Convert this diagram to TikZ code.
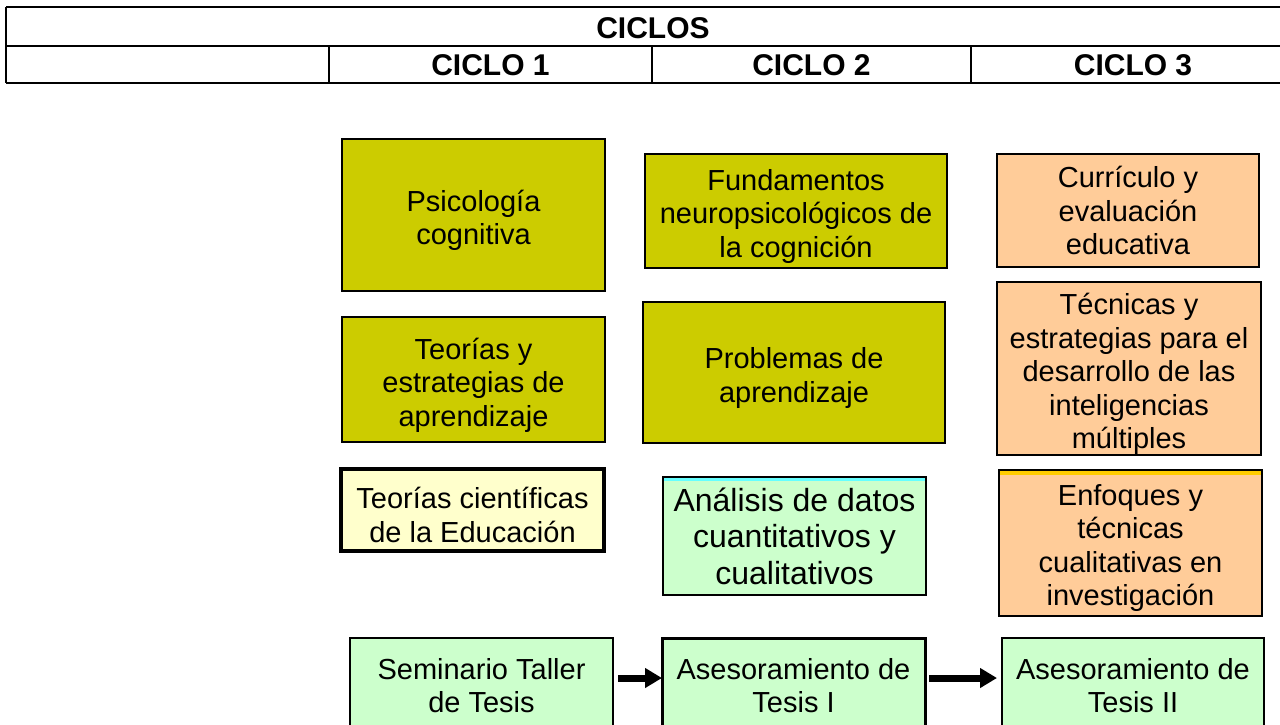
\documentclass[tikz,border=0pt]{standalone}
\usepackage{fontspec}
\setmainfont{Liberation Sans}
\usetikzlibrary{arrows.meta}
\definecolor{olive}{HTML}{CCCC00}
\definecolor{peach}{HTML}{FFCC99}
\definecolor{paleyellow}{HTML}{FFFFCC}
\definecolor{palegreen}{HTML}{CCFFCC}
\definecolor{bandcyan}{HTML}{66FFFF}
\definecolor{bandgold}{HTML}{FFCC00}
\newcommand\lowstrut{\rule{0pt}{32pt}}
\tikzset{
  base/.style={draw=black, line width=2pt, inner sep=0pt, outer sep=0pt, align=center,
    font=\fontsize{29}{33.5}\selectfont},
  olivebox/.style={base, fill=olive},
  peachbox/.style={base, fill=peach},
  yellowbox/.style={base, fill=paleyellow, line width=4pt},
  greenbox/.style={base, fill=palegreen},
  head/.style={font=\fontsize{30}{34}\selectfont\bfseries, inner sep=0pt},
  rule/.style={line width=2pt, black},
  arr/.style={line width=7pt, -{Triangle[length=17pt,width=19pt]}},
}
\begin{document}
\begin{tikzpicture}[x=1pt,y=-1pt]
\useasboundingbox (0,0) rectangle (1280,724);
\fill[white] (0,0) rectangle (1280,724);
% table
\draw[rule] (6,7) -- (1300,7);
\draw[rule] (6,46) -- (1300,46);
\draw[rule] (6,83) -- (1300,83);
\draw[rule] (6,7) -- (6,83);
\draw[rule] (329,46) -- (329,83);
\draw[rule] (652,46) -- (652,83);
\draw[rule] (971,46) -- (971,83);
\node[head] (ciclos) at (653,28) {CICLOS};
\node[head] (c1) at (490.5,65.5) {CICLO 1};
\node[head] (c2) at (811.5,65.5) {CICLO 2};
\node[head] (c3) at (1133,65.5) {CICLO 3};
% column 1
\node[olivebox, minimum width=263pt, minimum height=152pt] (psi) at (473.5,215) {\lowstrut Psicología\\cognitiva};
\node[olivebox, minimum width=263pt, minimum height=125pt] (teo) at (473.5,379.5) {\lowstrut Teorías y\\estrategias de\\aprendizaje};
\node[yellowbox, minimum width=263pt, minimum height=82pt] (cien) at (472.5,509.5) {\lowstrut Teorías científicas\\de la Educación};
% column 2
\node[olivebox, minimum width=302pt, minimum height=114pt] (fund) at (796,211) {\lowstrut Fundamentos\\neuropsicológicos de\\la cognición};
\node[olivebox, minimum width=302pt, minimum height=141pt] (prob) at (794,372.5) {\lowstrut Problemas de\\aprendizaje};
\node[greenbox, minimum width=263pt, minimum height=118pt, font=\fontsize{32}{36.5}\selectfont] (anal) at (794.5,536) {Análisis de datos\\cuantitativos y\\cualitativos};
\draw[bandcyan, line width=3pt] ([xshift=1pt,yshift=-2.5pt]anal.north west) -- ([xshift=-1pt,yshift=-2.5pt]anal.north east);
% column 3
\node[peachbox, minimum width=262pt, minimum height=113pt] (curr) at (1128,210.5) {Currículo y\\evaluación\\educativa};
\node[peachbox, minimum width=264pt, minimum height=173pt] (tec) at (1129,368.5) {\lowstrut Técnicas y\\estrategias para el\\desarrollo de las\\inteligencias\\múltiples};
\node[peachbox, minimum width=263pt, minimum height=146pt] (enf) at (1130.5,542.5) {\lowstrut Enfoques y\\técnicas\\cualitativas en\\investigación};
\draw[bandgold, line width=4pt] ([xshift=1pt,yshift=-3pt]enf.north west) -- ([xshift=-1pt,yshift=-3pt]enf.north east);
% bottom row
\node[greenbox, minimum width=263pt, minimum height=95pt] (sem) at (481.5,685.5) {Seminario Taller\\de Tesis};
\node[greenbox, line width=3pt, minimum width=263pt, minimum height=95pt] (as1) at (793.5,685.5) {Asesoramiento de\\Tesis I};
\node[greenbox, minimum width=262pt, minimum height=95pt] (as2) at (1133,685.5) {Asesoramiento de\\Tesis II};
\draw[arr, shorten <=5pt] ([yshift=7.5pt]sem.east) -- ([yshift=7.5pt]as1.west);
\draw[arr, shorten <=4pt, shorten >=5pt] ([yshift=7.5pt]as1.east) -- ([yshift=7.5pt]as2.west);
\end{tikzpicture}
\end{document}
